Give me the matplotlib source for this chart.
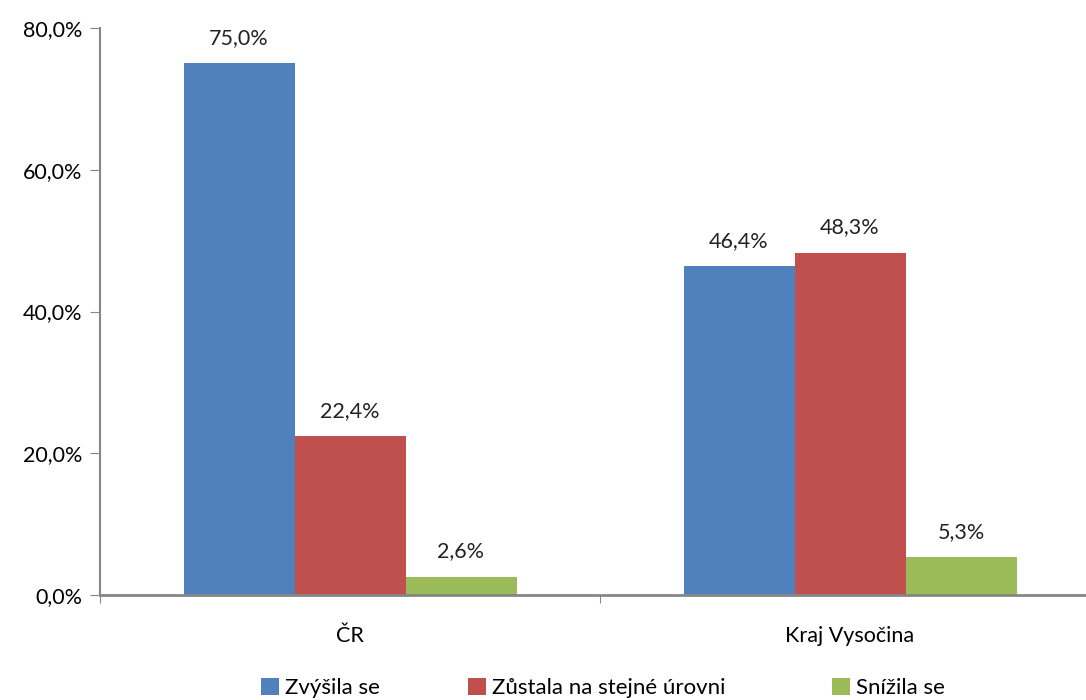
import matplotlib.pyplot as plt
import numpy as np

plt.rcParams['font.family'] = ['Lato', 'DejaVu Sans']

# data
regions = ['ČR', 'Kraj Vysočina']
series_names = ['Zvýšila se', 'Zůstala na stejné úrovni', 'Snížila se']
values = [
    [75.0, 46.4],   # Zvýšila se
    [22.4, 48.3],   # Zůstala na stejné úrovni
    [2.6, 5.3],     # Snížila se
]
colors = ['#4f81bd', '#c0504d', '#9bbb59']
y_ticks = [0, 20, 40, 60, 80]

fs = 15.5
fig = plt.figure(figsize=(10.86, 7.0), dpi=100)
ax = fig.add_axes([100 / 1086, 105 / 700, 1000 / 1086, 567 / 700])

x = np.arange(len(regions))
width = 0.222
handles = []
for i, (name, vals, col) in enumerate(zip(series_names, values, colors)):
    pos = x + (i - 1) * width
    b = ax.bar(pos, vals, width, color=col, label=name, zorder=2)
    handles.append(b)
    for p, v in zip(pos, vals):
        ax.annotate(f'{v:.1f}%'.replace('.', ','), (p, v), xytext=(0, 11),
                    textcoords='offset points', ha='center', va='bottom',
                    fontsize=fs, color='#222222')

ax.set_xlim(-0.5, 1.5)
ax.set_ylim(0, 80)
ax.set_yticks(y_ticks)
ax.set_yticklabels([f'{t:.1f}%'.replace('.', ',') for t in y_ticks], fontsize=fs)
ax.set_xticks([-0.5, 0.5, 1.5])
ax.set_xticklabels([])
ax.set_xticks(x, minor=True)
ax.set_xticklabels(regions, minor=True, fontsize=fs)
ax.tick_params(axis='x', which='minor', length=0, pad=22)
ax.tick_params(axis='x', which='major', length=6, color='#868686', direction='out')
ax.tick_params(axis='y', length=7, color='#868686', pad=6)

for s in ['top', 'right']:
    ax.spines[s].set_visible(False)
for s in ['left', 'bottom']:
    ax.spines[s].set_color('#868686')
    ax.spines[s].set_linewidth(2)
ax.spines['left'].set_linewidth(1.5)

# legend entries placed one by one (Excel spacing)
legend_x = [261, 468, 832]
for h, name, lx in zip(handles, series_names, legend_x):
    fig.legend([h], [name], loc='center left', bbox_to_anchor=(lx / 1086, 12 / 700),
               frameon=False, fontsize=fs + 0.5, handlelength=0.8, handleheight=0.8,
               handletextpad=0.3, borderaxespad=0, borderpad=0)

fig.savefig('out.png', dpi=100)
